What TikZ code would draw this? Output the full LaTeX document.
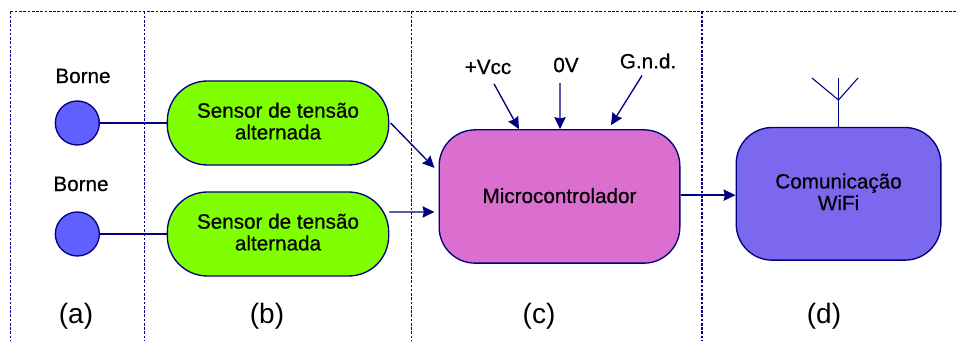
\documentclass[tikz,border=0pt]{standalone}
\usepackage{fontspec}
\setmainfont[BoldFont={Liberation Sans}, BoldFeatures={FakeBold=0.5}]{Liberation Sans}
\usetikzlibrary{positioning}
\usetikzlibrary{arrows.meta}
\definecolor{linecolor}{HTML}{000080}
\definecolor{sensorcolor}{HTML}{80FF00}
\definecolor{microcolor}{HTML}{DA6FCF}
\definecolor{commcolor}{HTML}{7B68EE}
\definecolor{bornecolor}{HTML}{6060FF}
\newcommand{\lift}{\rule[-3pt]{0pt}{3pt}}

\begin{document}
\begin{tikzpicture}[
                x=0.75pt, y=-0.75pt,
                every node/.style={font=\bfseries\fontsize{15.5}{16.3}\selectfont, text=black},
                bornenode/.style={circle, draw=linecolor, fill=bornecolor, line width=1pt, minimum size=33pt, inner sep=0pt},
                sensornode/.style={rectangle, draw=linecolor, fill=sensorcolor, line width=1pt, rounded corners=30pt, minimum width=166pt, minimum height=63pt, align=center},
                micronode/.style={rectangle, draw=linecolor, fill=microcolor, line width=1pt, rounded corners=27pt, minimum width=180.5pt, minimum height=100pt, align=center},
                commnode/.style={rectangle, draw=linecolor, fill=commcolor, line width=1pt, rounded corners=27pt, minimum width=153.5pt, minimum height=99.5pt, align=center},
                textnode/.style={inner sep=2pt},
                partnode/.style={font=\mdseries\fontsize{21}{23}\selectfont, inner sep=0pt},
                wire/.style={draw=linecolor, line width=1pt},
                thinwire/.style={draw=linecolor, line width=0.8pt},
                link/.style={draw=linecolor, line width=1pt, -{Stealth[length=9pt, width=8.5pt, inset=1pt]}},
                divider/.style={draw=linecolor, line width=1pt, dash pattern=on 2pt off 1.2pt},
            ]
            \useasboundingbox (0,0) rectangle (958,341);

            % Dividers
            \draw[divider] (10.5,11.5) -- (958,11.5);
            \draw[divider] (10.5,11.5) -- (10.5,341);
            \draw[divider] (144.5,11.5) -- (144.5,341);
            \draw[divider] (411.5,11.5) -- (411.5,341);
            \draw[divider] (702,11.5) -- (702,341);

            % Nodes
            \node[sensornode]   (sensor_a)  at (278,123)            {Sensor de tensão\\alternada\lift};
            \node[sensornode]   (sensor_b)  [below=19.25pt of sensor_a]   {Sensor de tensão\\alternada\lift};
            \node[bornenode]    (borne_a)   [left=50pt of sensor_a]  {};
            \node[bornenode]    (borne_b)   [left=50pt of sensor_b]  {};
            \node[textnode]     (label_a)   at (83,76)              {Borne};
            \node[textnode]     (label_b)   at (81,184)             {Borne};

            \node[micronode]    (micro)     at (559.5,196.5)        {Microcontrolador\rule[-1.5pt]{0pt}{1.5pt}};
            \node[commnode]     (comm)      [right=41.3pt of micro, yshift=2pt]  {Comunicação\\WiFi\lift};
            \node[textnode]     (vcc)       at (488,67)             {+Vcc};
            \node[textnode]     (zero)      at (566,65)             {0V};
            \node[textnode]     (gnd)       at (648,61)             {G.n.d.};

            \coordinate         (mast)      at (838.5,78);
            \coordinate         (fork)      at (838.5,100);
            \coordinate         (tip_a)     at (812,78);
            \coordinate         (tip_b)     at (858,78);

            \node[partnode]     (part_a)    at (76,316)             {(a)};
            \node[partnode]     (part_b)    at (267,316)            {(b)};
            \node[partnode]     (part_c)    at (539,316)            {(c)};
            \node[partnode]     (part_d)    at (824,316)            {(d)};

            % Lines
            \draw[wire] (borne_a.east) -- (sensor_a.west);
            \draw[wire] (borne_b.east) -- (sensor_b.west);
            \draw[thinwire] (comm.north -| mast) -- (mast);
            \draw[thinwire] (tip_a) -- (fork) -- (tip_b);

            \draw[link] ([xshift=1pt]sensor_a.east) -- ([xshift=-3pt, yshift=21.4pt]micro.west);
            \draw[link] ([yshift=16.5pt]sensor_b.east) -- ([xshift=-3pt, yshift=-11.6pt]micro.west);
            \draw[link] ([yshift=1pt]micro.east) -- ([yshift=1pt]micro.east -| comm.west);

            \draw[link] ([xshift=4.5pt, yshift=-5pt]vcc.south) -- ([xshift=-30.4pt]micro.north);
            \draw[link] ([xshift=-4.5pt, yshift=-6pt]zero.south) -- ([xshift=0.4pt]micro.north);
            \draw[link] ([xshift=-4.5pt, yshift=-3pt]gnd.south) -- ([xshift=38.6pt, yshift=3pt]micro.north);
        \end{tikzpicture}
\end{document}
